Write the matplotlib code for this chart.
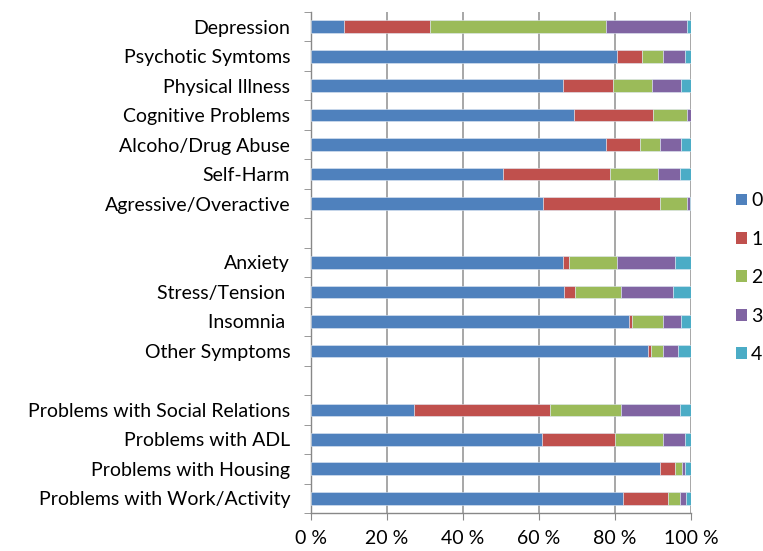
import matplotlib
matplotlib.use("Agg")
import matplotlib.pyplot as plt
from matplotlib.patches import Patch

plt.rcParams["font.family"] = ["Lato", "DejaVu Sans"]

# categories top to bottom, split into three groups with a blank slot between them
groups = [
    ["Depression", "Psychotic Symtoms", "Physical Illness", "Cognitive Problems",
     "Alcoho/Drug Abuse", "Self-Harm", "Agressive/Overactive"],
    ["Anxiety", "Stress/Tension ", "Insomnia ", "Other Symptoms"],
    ["Problems with Social Relations", "Problems with ADL",
     "Problems with Housing", "Problems with Work/Activity"],
]

# percentage of each score (0..4) per category, same order as above
score_0 = [8.8, 80.5, 66.3, 69.1, 77.7, 50.4, 61.1,
           66.3, 66.5, 83.8, 88.7,
           27.2, 60.9, 91.9, 82.2]
score_1 = [22.5, 6.5, 13.1, 20.8, 8.8, 28.4, 30.8,
           1.7, 2.9, 0.7, 0.8,
           35.8, 19.0, 4.0, 11.7]
score_2 = [46.4, 5.7, 10.3, 9.0, 5.4, 12.5, 7.0,
           12.5, 12.3, 8.2, 3.0,
           18.7, 12.6, 1.6, 3.1]
score_3 = [21.2, 5.8, 7.7, 1.1, 5.5, 5.8, 0.8,
           15.2, 13.6, 4.7, 4.0,
           15.4, 6.0, 0.9, 1.7]
score_4 = [1.1, 1.5, 2.6, 0.0, 2.6, 2.9, 0.3,
           4.3, 4.7, 2.6, 3.5,
           2.9, 1.5, 1.6, 1.3]

series = [score_0, score_1, score_2, score_3, score_4]
series_names = ["0", "1", "2", "3", "4"]
colors = ["#4F81BD", "#C0504D", "#9BBB59", "#8064A2", "#4BACC6"]
x_ticks = [0, 20, 40, 60, 80, 100]

# y slot for every category, leaving one empty slot between groups
labels, ypos = [], []
slot = 0
for g in groups:
    for name in g:
        labels.append(name)
        ypos.append(slot)
        slot += 1
    slot += 1
n_slots = slot - 1

fig = plt.figure(figsize=(7.63, 5.51), dpi=100)
ax = fig.add_axes([311 / 763, 1 - 513 / 551, 380 / 763, 501 / 551])

left = [0.0] * len(labels)
for vals, name, c in zip(series, series_names, colors):
    ax.barh(ypos, vals, left=left, height=0.43, color=c, label=name,
            edgecolor="#dfe8f3", linewidth=0.4, zorder=3)
    left = [a + b for a, b in zip(left, vals)]

ax.set_xlim(0, 100)
ax.set_ylim(n_slots - 0.5, -0.5)
ax.set_xticks(x_ticks)
ax.set_xticklabels([f"{v} %" for v in x_ticks], fontsize=14)
ax.set_yticks(ypos)
ax.set_yticklabels(labels, fontsize=14)
ax.set_yticks([i - 0.5 for i in range(n_slots + 1)], minor=True)
ax.tick_params(axis="y", which="major", length=0, pad=15)
ax.tick_params(axis="y", which="minor", length=5, color="#888888")
ax.tick_params(axis="x", length=5, color="#888888", pad=7)

ax.grid(axis="x", color="#a0a0a0", linewidth=1.3, zorder=0)
for s in ["top", "right"]:
    ax.spines[s].set_visible(False)
for s in ["left", "bottom"]:
    ax.spines[s].set_color("#888888")
    ax.spines[s].set_linewidth(1.0)

handles = [Patch(facecolor=c, label=n) for c, n in zip(colors, series_names)]
fig.legend(handles=handles, loc="upper left", bbox_to_anchor=(0.955, 0.665),
           frameon=False, fontsize=14, handlelength=0.55, handleheight=0.55,
           handletextpad=0.2, labelspacing=1.1, borderaxespad=0)

fig.savefig("out.png", dpi=100)
